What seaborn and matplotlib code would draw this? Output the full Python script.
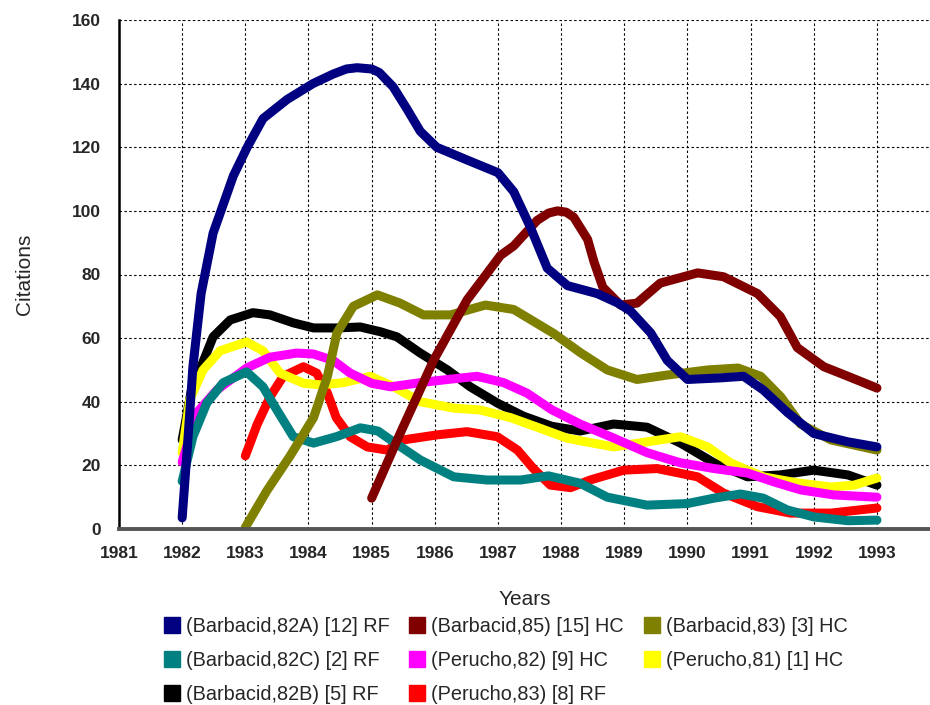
import numpy as np
import pandas as pd
import seaborn as sns
import matplotlib.pyplot as plt
from matplotlib.lines import Line2D

# --- data (year, citations) ---
b82a_x = [1982.0, 1982.08, 1982.17, 1982.3, 1982.49, 1982.81, 1983.03, 1983.28, 1983.66, 1984.07, 1984.39,
          1984.6, 1984.77, 1985.0, 1985.12, 1985.34, 1985.56, 1985.77, 1986.03, 1986.51, 1987.0, 1987.25,
          1987.51, 1987.78, 1988.1, 1988.57, 1988.9, 1989.1, 1989.42, 1989.68, 1990.0, 1990.52, 1990.89,
          1991.2, 1991.59, 1992.0, 1992.54, 1993.0]
b82a_y = [3.5, 25, 51, 74, 93, 111, 120, 129, 135, 140, 143, 144.6, 145, 144.6, 143.5, 139, 132, 125, 120,
          116, 112, 106, 95, 82, 76.5, 74, 71, 68.5, 61.6, 53, 47, 47.5, 48, 43.7, 36.5, 30, 27.4, 25.8]

b85_x = [1985.0, 1985.45, 1985.98, 1986.51, 1987.04, 1987.25, 1987.62, 1987.8, 1987.94, 1988.08, 1988.2,
         1988.42, 1988.52, 1988.66, 1988.94, 1989.2, 1989.57, 1990.16, 1990.57, 1991.11, 1991.47, 1991.74,
         1992.16, 1992.54, 1993.0]
b85_y = [9.7, 30, 53, 72, 86, 89, 97, 99.3, 100, 99.6, 98, 91, 84, 76, 70.4, 71, 77.3, 80.5, 79.3, 74, 66.8,
         57, 51, 48, 44.3]

b83_x = [1983.0, 1983.34, 1983.71, 1984.08, 1984.3, 1984.45, 1984.71, 1985.09, 1985.45, 1985.82, 1986.25,
         1986.8, 1987.25, 1987.88, 1988.3, 1988.73, 1989.2, 1989.68, 1990.32, 1990.8, 1991.16, 1991.48,
         1991.79, 1992.27, 1993.0]
b83_y = [0.5, 12, 23, 35, 48, 61.6, 70, 73.6, 71, 67.3, 67.3, 70.4, 69, 61.5, 55.5, 50, 47, 48.4, 50, 50.6,
         48, 41.5, 33, 28, 24.8]

b82c_x = [1982.0, 1982.17, 1982.39, 1982.65, 1983.02, 1983.28, 1983.5, 1983.76, 1984.08, 1984.44, 1984.82,
          1985.1, 1985.3, 1985.77, 1986.3, 1986.83, 1987.36, 1987.8, 1988.3, 1988.73, 1989.36, 1990.0,
          1990.42, 1990.84, 1991.2, 1991.58, 1992.0, 1992.54, 1993.0]
b82c_y = [15, 29, 39.6, 46, 49.4, 44.7, 37.4, 29, 27, 29, 31.8, 30.8, 28, 21.7, 16.4, 15.4, 15.4, 16.7, 14.4,
          10, 7.5, 8, 9.7, 11, 9.7, 6, 3.8, 2.6, 2.8]

p82_x = [1982.0, 1982.23, 1982.55, 1983.02, 1983.39, 1983.81, 1984.08, 1984.39, 1984.66, 1985.0, 1985.3,
         1985.77, 1986.2, 1986.67, 1987.09, 1987.46, 1987.85, 1988.3, 1988.83, 1989.36, 1989.89, 1990.42,
         1990.95, 1991.37, 1991.79, 1992.32, 1993.0]
p82_y = [21, 36.5, 43.7, 50.6, 54, 55.3, 55, 53, 49, 45.8, 44.7, 46, 47, 48, 46, 42.7, 37.5, 33, 28.6, 24,
         20.8, 19, 17.6, 14.8, 12.3, 10.7, 10]

p81_x = [1982.0, 1982.12, 1982.33, 1982.6, 1983.02, 1983.28, 1983.55, 1983.92, 1984.19, 1984.55, 1984.98,
         1985.35, 1985.77, 1986.3, 1986.72, 1987.2, 1987.62, 1988.1, 1988.83, 1989.36, 1989.89, 1990.32,
         1990.68, 1991.2, 1991.74, 1992.27, 1992.64, 1993.0]
p81_y = [24, 40.6, 50, 56, 58.8, 56, 49, 45.8, 45.3, 46, 48, 44.7, 40, 38, 37.4, 35, 32, 28.5, 25.8, 27.4,
         29, 25.8, 20.8, 16.4, 14.5, 13.2, 13.8, 16]

b82b_x = [1982.0, 1982.15, 1982.28, 1982.49, 1982.76, 1983.12, 1983.39, 1983.76, 1984.08, 1984.44, 1984.82,
          1985.14, 1985.4, 1985.77, 1986.2, 1986.56, 1986.99, 1987.4, 1987.85, 1988.3, 1988.83, 1989.36,
          1989.89, 1990.42, 1990.95, 1991.47, 1992.0, 1992.54, 1993.0]
b82b_y = [28, 44, 50, 60.4, 65.7, 68, 67.3, 64.8, 63.2, 63.2, 63.5, 62, 60.4, 55.3, 50, 44.7, 39.6, 35.5,
          32.3, 30.8, 33, 32, 27, 20.8, 16.4, 17, 18.5, 17, 13.8]

p83_x = [1983.0, 1983.19, 1983.39, 1983.6, 1983.92, 1984.13, 1984.3, 1984.44, 1984.66, 1984.93, 1985.25,
         1985.5, 1986.04, 1986.51, 1986.99, 1987.31, 1987.56, 1987.83, 1988.15, 1988.46, 1988.99, 1989.52,
         1990.16, 1990.57, 1991.11, 1991.63, 1992.27, 1993.0]
p83_y = [23, 33, 41.5, 48, 51, 49, 42.7, 35, 29, 25.8, 24.8, 28, 29.6, 30.6, 29, 24.8, 19, 13.8, 13, 15.4,
         18.5, 19, 16.4, 11.3, 7, 5, 5, 6.6]

labels = ['(Barbacid,82A) [12] RF', '(Barbacid,85) [15] HC', '(Barbacid,83) [3] HC',
          '(Barbacid,82C) [2] RF', '(Perucho,82) [9] HC', '(Perucho,81) [1] HC',
          '(Barbacid,82B) [5] RF', '(Perucho,83) [8] RF']
colors = ['#000080', '#800000', '#808000', '#008080', '#FF00FF', '#FFFF00', '#000000', '#FF0000']
series = [(b82a_x, b82a_y), (b85_x, b85_y), (b83_x, b83_y), (b82c_x, b82c_y),
          (p82_x, p82_y), (p81_x, p81_y), (b82b_x, b82b_y), (p83_x, p83_y)]
year_ticks = list(range(1981, 1994))
cit_ticks = list(range(0, 161, 20))

frames = []
for lab, (xs, ys) in zip(labels, series):
    frames.append(pd.DataFrame({'Years': xs, 'Citations': ys, 'paper': lab}))
df = pd.concat(frames, ignore_index=True)

palette = dict(zip(labels, colors))
draw_order = labels[::-1]  # last legend entry drawn first (bottom)

sns.set_style('white')
plt.rcParams['font.family'] = ['Liberation Sans', 'DejaVu Sans']

fig = plt.figure(figsize=(9.3, 7.05), dpi=100)
ax = fig.add_axes([119 / 930, 1 - 529 / 705, 811 / 930, 509 / 705])

sns.lineplot(data=df, x='Years', y='Citations', hue='paper', hue_order=draw_order,
             palette=palette, estimator=None, sort=False, legend=False, linewidth=6.5,
             solid_capstyle='round', solid_joinstyle='round', ax=ax)

ax.set_xlim(1981, 1993.84)
ax.set_ylim(0, 160)
ax.set_xticks(year_ticks)
ax.set_yticks(cit_ticks)
ax.set_xticklabels([str(t) for t in year_ticks], fontsize=12.5, fontweight='bold')
ax.set_yticklabels([str(t) for t in cit_ticks], fontsize=12.5, fontweight='bold')
ax.grid(True, color='black', linestyle=(0, (2.2, 2.2)), linewidth=0.8)
ax.set_axisbelow(True)
ax.tick_params(axis='x', direction='in', length=7, width=1.2, color='#555555', pad=12)
ax.tick_params(axis='y', length=0, pad=13)

for s in ['top', 'right']:
    ax.spines[s].set_visible(False)
ax.spines['left'].set_color('black')
ax.spines['left'].set_linewidth(1.8)
ax.spines['bottom'].set_color('#555555')
ax.spines['bottom'].set_linewidth(2.8)

ax.set_xlabel('Years', fontsize=15, labelpad=21)
ax.set_ylabel('Citations', fontsize=15, labelpad=27)

# legend: column-major fill gives the row layout of the reference
leg_idx = [0, 3, 6, 1, 4, 7, 2, 5]
handles = [Line2D([], [], marker='s', linestyle='', markersize=11, color=colors[i]) for i in leg_idx]
fig.legend(handles, [labels[i] for i in leg_idx], ncol=3, loc='upper left',
           bbox_to_anchor=(164 / 930, 1 - 617 / 705), frameon=False, fontsize=14.3,
           handlelength=0.8, handletextpad=0.3, columnspacing=1.0, labelspacing=0.76,
           borderpad=0, borderaxespad=0)

fig.savefig('out.png', dpi=100)
